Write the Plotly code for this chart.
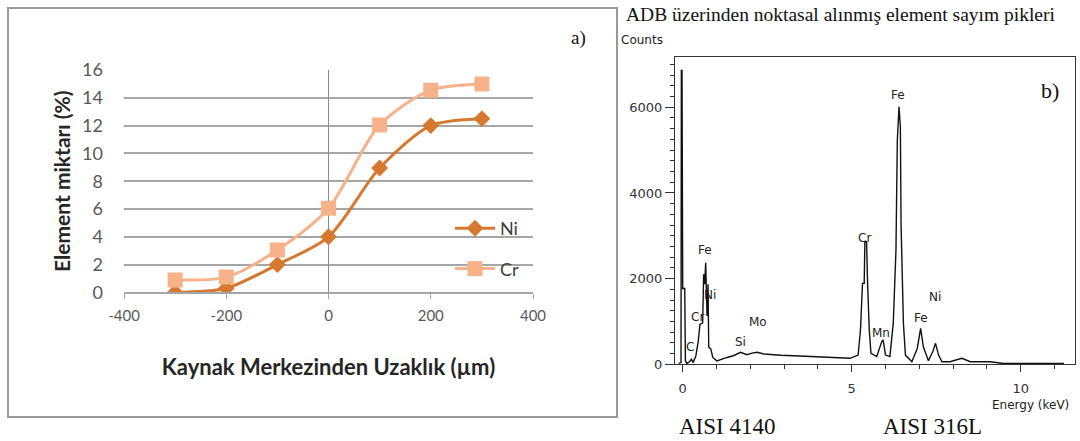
import plotly.graph_objects as go

# ---- panel a) data ----
distance = [-300, -200, -100, 0, 100, 200, 300]
ni_pct = [0.0, 0.3, 2.0, 4.0, 8.95, 12.0, 12.5]
cr_pct = [0.9, 1.1, 3.05, 6.05, 12.05, 14.55, 15.0]
x_ticks = [-400, -200, 0, 200, 400]
x_tick_text = ["-400", "-200", "0", "200", "400"]

# ---- panel b) EDS spectrum (read off the picture) ----
energy_kev = [-0.12, -0.05, -0.04, -0.02, 0.00, 0.06, 0.08, 0.12, 0.20, 0.26, 0.31, 0.39,
              0.46, 0.51, 0.59, 0.62, 0.65, 0.68, 0.72, 0.75, 0.77, 0.83, 0.89, 1.01,
              1.31, 1.50, 1.71, 1.90, 2.05, 2.20, 2.40, 2.60, 2.90, 3.29, 3.78, 4.36,
              4.95, 5.19, 5.26, 5.32, 5.37, 5.39, 5.44, 5.47, 5.52, 5.57, 5.74, 5.89,
              5.93, 6.00, 6.13, 6.23, 6.31, 6.35, 6.40, 6.44, 6.46, 6.53, 6.59, 6.78,
              6.94, 7.04, 7.12, 7.27, 7.40, 7.48, 7.57, 7.67, 7.91, 8.26, 8.51, 9.10,
              9.50, 10.29, 11.28]
counts = [20, 40, 6860, 6860, 1770, 1770, 80, 20, 60, 120, 40, 200,
          540, 930, 970, 2100, 1870, 2370, 1130, 1870, 400, 360, 160, 80,
          160, 200, 280, 225, 260, 280, 240, 225, 210, 200, 180, 160,
          140, 215, 800, 1890, 1890, 2860, 2860, 1890, 800, 255, 180, 530,
          570, 215, 180, 960, 2670, 5230, 6010, 5540, 3290, 960, 215, 60,
          370, 840, 410, 85, 300, 490, 215, 60, 60, 140, 60, 60,
          20, 20, 20]

peak_labels = ["C", "Cr", "Fe", "Ni", "Si", "Mo", "Cr", "Mn", "Fe", "Fe", "Ni"]
peak_x = [0.22, 0.43, 0.66, 0.81, 1.70, 2.22, 5.39, 5.86, 6.37, 7.05, 7.46]
peak_y = [400, 1100, 2670, 1610, 520, 985, 2950, 730, 6285, 1080, 1570]

NI_COLOR = "#D6782F"
CR_COLOR = "#F7B28A"
W, H = 1080, 441


def px(x):
    return x / W


def py(y):
    return 1 - y / H


fig = go.Figure()
fig.add_trace(go.Scatter(
    x=distance, y=ni_pct, name="Ni", mode="lines+markers",
    line=dict(color=NI_COLOR, width=3, shape="spline", smoothing=0.8),
    marker=dict(symbol="diamond", size=13, color=NI_COLOR),
    legendgroup="ni", xaxis="x", yaxis="y"))
fig.add_trace(go.Scatter(
    x=distance, y=cr_pct, name="Cr", mode="lines+markers",
    line=dict(color=CR_COLOR, width=3, shape="spline", smoothing=0.8),
    marker=dict(symbol="square", size=15, color=CR_COLOR),
    legendgroup="cr", xaxis="x", yaxis="y"))
fig.add_trace(go.Scatter(
    x=energy_kev, y=counts, mode="lines", showlegend=False,
    line=dict(color="#111111", width=1.4),
    xaxis="x2", yaxis="y2"))

annotations = []
for t, x, y in zip(peak_labels, peak_x, peak_y):
    annotations.append(dict(x=x, y=y, xref="x2", yref="y2", text=t, showarrow=False,
                            xanchor="center", yanchor="middle",
                            font=dict(family="DejaVu Sans", size=12, color="#222")))


def label(x, y, text, family, size, anchor="center", color="#111"):
    return dict(x=px(x), y=py(y), xref="paper", yref="paper", text=text,
                showarrow=False, xanchor=anchor, yanchor="middle",
                font=dict(family=family, size=size, color=color))


annotations += [
    label(578, 38, "a)", "Liberation Serif", 19),
    label(1050, 90, "b)", "Liberation Serif", 22),
    label(624, 14, "ADB üzerinden noktasal alınmış element sayım pikleri",
          "Liberation Serif", 19.5, anchor="left"),
    label(619, 40, "Counts", "DejaVu Sans", 12, anchor="left", color="#222"),
    label(1030, 405, "Energy (keV)", "DejaVu Sans", 12, color="#222"),
    label(727, 426, "AISI 4140", "Liberation Serif", 23),
    label(932, 426, "AISI 316L", "Liberation Serif", 23),
]

fig.update_layout(
    width=W, height=H, margin=dict(l=0, r=0, t=0, b=0, autoexpand=False),
    paper_bgcolor="white", plot_bgcolor="white",
    showlegend=True,
    legend=dict(x=px(450), y=py(210), xanchor="left", yanchor="top",
                traceorder="grouped", tracegroupgap=14, bgcolor="rgba(0,0,0,0)",
                font=dict(family="Lato", size=18, color="#404040"), itemwidth=40),
    xaxis=dict(domain=[px(124), px(533)], range=[-400, 400],
               tickmode="array", tickvals=x_ticks, ticktext=x_tick_text,
               anchor="y", ticks="outside", ticklen=5, tickcolor="#A6A6A6",
               showline=True, linecolor="#A6A6A6", linewidth=1.5,
               zeroline=True, zerolinecolor="#8C8C8C", zerolinewidth=1,
               showgrid=False, ticklabelstandoff=4, automargin=False,
               tickfont=dict(family="Lato", size=15, color="#595959"),
               title=dict(text="<b>Kaynak Merkezinden Uzaklık (µm)</b>", standoff=36,
                          font=dict(family="Lato", size=22, color="#262626"))),
    yaxis=dict(domain=[py(292.4), py(70)], range=[0, 16], dtick=2, anchor="x",
               showgrid=True, gridcolor="#A6A6A6", gridwidth=1.5, ticks="",
               showline=False, zeroline=False, ticklabelstandoff=20, automargin=False,
               tickfont=dict(family="Lato", size=18, color="#595959"),
               title=dict(text="<b>Element miktarı (%)</b>", standoff=5,
                          font=dict(family="Lato", size=21, color="#262626"))),
    xaxis2=dict(domain=[px(675), px(1075)], range=[-0.228, 11.607], anchor="y2",
                dtick=5, tick0=0, ticks="outside", ticklen=7, tickcolor="#333",
                minor=dict(dtick=1, tick0=0, ticks="outside", ticklen=4, tickcolor="#333"),
                showline=True, mirror=True, linecolor="#333", linewidth=1,
                showgrid=False, zeroline=False, automargin=False, ticklabelstandoff=5,
                tickfont=dict(family="DejaVu Sans", size=13, color="#333")),
    yaxis2=dict(domain=[py(364.3), py(56.7)], range=[0, 7180], anchor="x2",
                dtick=2000, ticks="outside", ticklen=9, tickcolor="#333",
                minor=dict(dtick=250, ticks="outside", ticklen=4, tickcolor="#333"),
                showline=True, mirror=True, linecolor="#333", linewidth=1,
                showgrid=False, zeroline=False, automargin=False,
                tickfont=dict(family="DejaVu Sans", size=13, color="#333")),
    annotations=annotations,
    shapes=[dict(type="rect", xref="paper", yref="paper",
                 x0=px(8), x1=px(617), y0=py(417), y1=py(8),
                 line=dict(color="#9A9A9A", width=2))],
)

fig.write_html("out.html", config={"displayModeBar": False},
               post_script="document.body.style.margin='0';document.body.style.overflow='hidden';")
